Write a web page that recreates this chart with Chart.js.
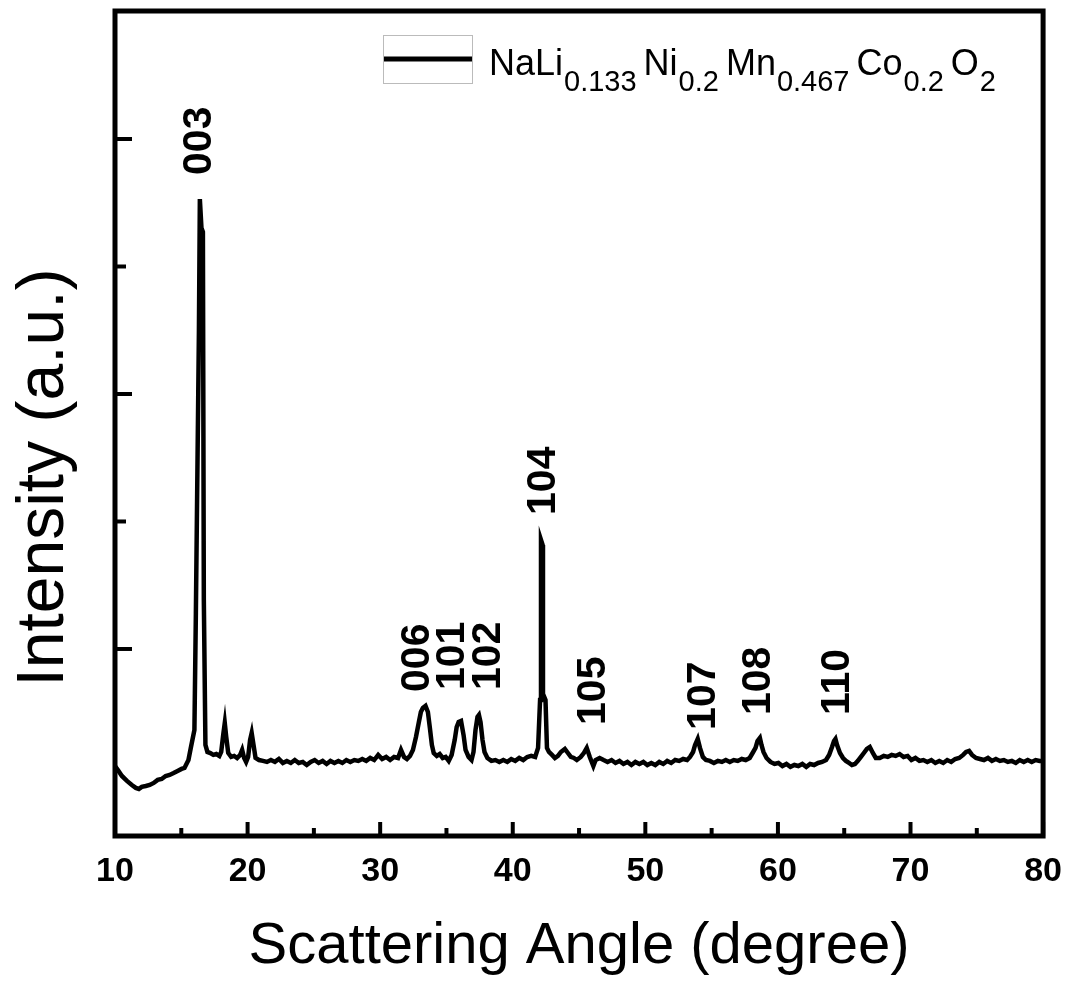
<!DOCTYPE html>
<html>
<head>
<meta charset="utf-8">
<title>XRD pattern</title>
<script src="https://cdn.jsdelivr.net/npm/chart.js@4.4.1/dist/chart.umd.min.js"></script>
<style>
  html, body { margin: 0; padding: 0; background: #fff; }
  #wrap { width: 1077px; height: 987px; }
</style>
</head>
<body>
<div id="wrap"><canvas id="xrd" width="1077" height="987"></canvas></div>
<script>
// 2-theta positions (degree) and measured intensity (a.u.)
const angles = [
  10.00, 10.22, 10.52, 10.90, 11.27, 11.57, 11.80, 12.02, 12.32, 12.62,
  12.92, 13.22, 13.52, 13.82, 14.12, 14.42, 14.72, 15.02, 15.24, 15.54,
  15.73, 15.99, 16.10, 16.33, 16.40, 16.52, 16.63, 16.70, 16.82, 16.97,
  17.19, 17.42, 17.64, 17.87, 18.01, 18.16, 18.28, 18.39, 18.54, 18.76,
  18.99, 19.21, 19.44, 19.59, 19.74, 19.89, 20.04, 20.19, 20.31, 20.45,
  20.60, 20.86, 21.16, 21.46, 21.76, 22.06, 22.36, 22.66, 22.96, 23.26,
  23.56, 23.86, 24.16, 24.46, 24.76, 25.06, 25.36, 25.66, 25.96, 26.25,
  26.55, 26.85, 27.15, 27.45, 27.75, 28.05, 28.35, 28.65, 28.95, 29.25,
  29.55, 29.85, 30.15, 30.45, 30.75, 31.05, 31.35, 31.57, 31.80, 32.02,
  32.25, 32.47, 32.70, 32.92, 33.07, 33.22, 33.42, 33.60, 33.75, 33.90,
  34.04, 34.27, 34.49, 34.72, 34.94, 35.17, 35.39, 35.62, 35.77, 35.92,
  36.10, 36.29, 36.44, 36.67, 36.89, 37.04, 37.19, 37.34, 37.45, 37.57,
  37.72, 37.87, 38.09, 38.39, 38.69, 38.99, 39.29, 39.59, 39.89, 40.19,
  40.49, 40.79, 41.09, 41.39, 41.69, 41.91, 42.06, 42.13, 42.25, 42.28,
  42.47, 42.58, 42.73, 42.96, 43.18, 43.41, 43.63, 43.93, 44.16, 44.38,
  44.61, 44.83, 45.13, 45.36, 45.58, 45.81, 46.08, 46.25, 46.55, 46.85,
  47.15, 47.45, 47.75, 48.05, 48.35, 48.65, 48.95, 49.25, 49.55, 49.85,
  50.15, 50.45, 50.75, 51.05, 51.35, 51.65, 51.95, 52.25, 52.55, 52.85,
  53.15, 53.37, 53.60, 53.75, 53.95, 54.12, 54.34, 54.57, 54.87, 55.17,
  55.47, 55.77, 56.07, 56.37, 56.67, 56.97, 57.27, 57.57, 57.87, 58.09,
  58.31, 58.46, 58.64, 58.76, 58.91, 59.14, 59.44, 59.74, 60.04, 60.34,
  60.64, 60.94, 61.24, 61.54, 61.84, 62.14, 62.43, 62.73, 63.03, 63.33,
  63.63, 63.86, 64.08, 64.23, 64.34, 64.46, 64.68, 64.91, 65.13, 65.36,
  65.58, 65.81, 66.03, 66.26, 66.48, 66.71, 66.93, 67.16, 67.38, 67.68,
  67.98, 68.28, 68.58, 68.88, 69.18, 69.48, 69.78, 70.07, 70.37, 70.67,
  70.97, 71.27, 71.57, 71.87, 72.17, 72.47, 72.77, 73.07, 73.37, 73.67,
  73.97, 74.19, 74.42, 74.64, 74.94, 75.24, 75.54, 75.84, 76.14, 76.44,
  76.74, 77.04, 77.34, 77.64, 77.94, 78.24, 78.54, 78.84, 79.14, 79.44,
  79.74, 80.00
];
const counts = [
  1082, 1051, 1004,  965,  933,  910,  902,  918,  925,  933,
   949,  973,  980, 1004, 1012, 1027, 1043, 1059, 1067, 1129,
  1231, 1365, 2282, 4502, 5529, 5302, 5271, 2384, 1247, 1192,
  1184, 1169, 1176, 1161, 1192, 1325, 1420, 1310, 1184, 1153,
  1161, 1145, 1169, 1208, 1145, 1114, 1153, 1286, 1341, 1247,
  1145, 1129, 1122, 1114, 1129, 1114, 1137, 1106, 1122, 1106,
  1129, 1106, 1114, 1090, 1114, 1129, 1106, 1122, 1098, 1122,
  1106, 1122, 1106, 1129, 1114, 1129, 1122, 1137, 1122, 1145,
  1129, 1169, 1137, 1153, 1129, 1153, 1145, 1208, 1153, 1137,
  1161, 1208, 1310, 1427, 1506, 1537, 1553, 1506, 1380, 1247,
  1184, 1161, 1176, 1145, 1153, 1122, 1169, 1286, 1388, 1427,
  1435, 1325, 1208, 1153, 1129, 1192, 1365, 1467, 1482, 1427,
  1286, 1192, 1145, 1122, 1129, 1114, 1129, 1114, 1137, 1122,
  1145, 1129, 1153, 1161, 1153, 1224, 1600, 2855, 2816, 1647,
  1600, 1224, 1192, 1169, 1145, 1161, 1192, 1216, 1184, 1153,
  1145, 1129, 1153, 1184, 1224, 1153, 1082, 1129, 1145, 1129,
  1114, 1129, 1106, 1122, 1098, 1114, 1090, 1114, 1098, 1114,
  1090, 1106, 1090, 1114, 1098, 1122, 1106, 1129, 1122, 1137,
  1129, 1153, 1192, 1247, 1294, 1224, 1153, 1129, 1122, 1106,
  1122, 1114, 1129, 1114, 1129, 1122, 1137, 1129, 1145, 1184,
  1224, 1278, 1302, 1247, 1192, 1145, 1114, 1098, 1106, 1082,
  1098, 1075, 1090, 1082, 1098, 1075, 1098, 1090, 1106, 1114,
  1129, 1169, 1231, 1278, 1294, 1247, 1184, 1145, 1122, 1106,
  1090, 1098, 1122, 1153, 1184, 1216, 1231, 1184, 1145, 1145,
  1161, 1153, 1169, 1161, 1176, 1153, 1161, 1129, 1145, 1122,
  1129, 1114, 1129, 1106, 1122, 1106, 1129, 1114, 1137, 1145,
  1169, 1192, 1200, 1169, 1145, 1137, 1129, 1145, 1122, 1137,
  1122, 1129, 1114, 1122, 1106, 1129, 1114, 1129, 1114, 1129,
  1122, 1122
];

// reflection indices and where they sit (angle, label foot in a.u.)
const peakNames  = ['003', '006', '101', '102', '104', '105', '107', '108', '110'];
const peakAngles = [16.37, 32.85, 35.47, 38.16, 42.36, 46.10, 54.42, 58.54, 64.53];
const peakFeet   = [5718, 1663, 1678, 1678, 3051, 1404, 1365, 1482, 1482];

const xTicks      = [10, 20, 30, 40, 50, 60, 70, 80];
const xMinorTicks = [15, 25, 35, 45, 55, 65, 75];
const yTicks      = [2000, 4000, 6000];
const yMinorTicks = [3000, 5000];
const yRange      = [533, 7004];

const FONT = '"Liberation Sans", Arial, Helvetica, sans-serif';

// frame + inward tick marks (major long, minor short)
const framePlugin = {
  id: 'frame',
  afterDraw(chart) {
    const {ctx, chartArea: a, scales: {x, y}} = chart;
    ctx.save();
    ctx.strokeStyle = '#000';
    ctx.lineWidth = 4;
    ctx.lineCap = 'butt';
    const tick = (x1, y1, x2, y2) => {
      ctx.beginPath(); ctx.moveTo(x1, y1); ctx.lineTo(x2, y2); ctx.stroke();
    };
    xTicks.forEach(v => tick(x.getPixelForValue(v), a.bottom, x.getPixelForValue(v), a.bottom - 14));
    xMinorTicks.forEach(v => tick(x.getPixelForValue(v), a.bottom, x.getPixelForValue(v), a.bottom - 8));
    yTicks.forEach(v => tick(a.left, y.getPixelForValue(v), a.left + 17, y.getPixelForValue(v)));
    yMinorTicks.forEach(v => tick(a.left, y.getPixelForValue(v), a.left + 11, y.getPixelForValue(v)));
    ctx.lineWidth = 5;
    ctx.strokeRect(a.left, a.top, a.right - a.left, a.bottom - a.top);
    ctx.restore();
  }
};

// y title, drawn by hand so it can sit a little below the axis centre
const yTitlePlugin = {
  id: 'yTitle',
  afterDraw(chart) {
    const {ctx, chartArea: a} = chart;
    ctx.save();
    ctx.translate(63, (a.top + a.bottom) / 2 + 54);
    ctx.rotate(-Math.PI / 2);
    ctx.font = '66px ' + FONT;
    ctx.fillStyle = '#000';
    ctx.textAlign = 'center';
    ctx.textBaseline = 'alphabetic';
    ctx.fillText('Intensity (a.u.)', 0, 0);
    ctx.restore();
  }
};

// vertical hkl labels over the reflections
const peakLabelPlugin = {
  id: 'peakLabels',
  afterDatasetsDraw(chart) {
    const {ctx, scales: {x, y}} = chart;
    ctx.save();
    ctx.fillStyle = '#000';
    ctx.font = 'bold 41px ' + FONT;
    ctx.textAlign = 'left';
    ctx.textBaseline = 'middle';
    peakNames.forEach((name, i) => {
      ctx.save();
      ctx.translate(x.getPixelForValue(peakAngles[i]), y.getPixelForValue(peakFeet[i]));
      ctx.rotate(-Math.PI / 2);
      ctx.fillText(name, 0, 0);
      ctx.restore();
    });
    ctx.restore();
  }
};

// legend with the chemical formula: element followed by its subscript
const formula = [
  ['NaLi', '0.133'],
  ['Ni', '0.2'],
  ['Mn', '0.467'],
  ['Co', '0.2'],
  ['O', '2']
];
const legendPlugin = {
  id: 'formulaLegend',
  afterDraw(chart) {
    const {ctx, chartArea: a} = chart;
    const bx = a.left + 268, by = a.top + 24, bw = 89, bh = 48;
    ctx.save();
    ctx.strokeStyle = '#777';
    ctx.lineWidth = 1;
    ctx.setLineDash([1, 1]);
    ctx.strokeRect(bx + 0.5, by + 0.5, bw, bh);
    ctx.setLineDash([]);
    ctx.strokeStyle = '#000';
    ctx.lineWidth = 5;
    ctx.beginPath();
    ctx.moveTo(bx + 1, by + 24);
    ctx.lineTo(bx + bw, by + 24);
    ctx.stroke();
    ctx.fillStyle = '#000';
    ctx.textBaseline = 'alphabetic';
    ctx.textAlign = 'left';
    let cx = bx + bw + 17;
    const base = by + 40;
    formula.forEach(([el, sub]) => {
      ctx.font = '36px ' + FONT;
      ctx.fillText(el, cx, base);
      cx += ctx.measureText(el).width + 1;
      ctx.font = '29px ' + FONT;
      ctx.fillText(sub, cx, base + 16);
      cx += ctx.measureText(sub).width + 7;
    });
    ctx.restore();
  }
};

new Chart(document.getElementById('xrd'), {
  type: 'line',
  data: {
    datasets: [{
      label: 'NaLi0.133Ni0.2Mn0.467Co0.2O2',
      data: angles.map((a, i) => ({x: a, y: counts[i]})),
      borderColor: '#000',
      borderWidth: 4.5,
      pointRadius: 0,
      tension: 0,
      fill: false
    }]
  },
  options: {
    responsive: false,
    animation: false,
    layout: {padding: {top: 11, right: 30, left: 0, bottom: 0}},
    plugins: {legend: {display: false}, tooltip: {enabled: false}},
    scales: {
      x: {
        type: 'linear',
        min: 10,
        max: 80,
        afterBuildTicks: s => { s.ticks = xTicks.map(v => ({value: v})); },
        afterFit: s => { s.height = 151; },
        grid: {display: false, drawTicks: false},
        border: {display: false},
        ticks: {
          color: '#000',
          padding: 15,
          maxRotation: 0,
          font: {family: FONT, size: 34, weight: 'bold', lineHeight: 1.2}
        },
        title: {
          display: true,
          text: 'Scattering Angle (degree)',
          color: '#000',
          padding: {top: 0, bottom: 5},
          font: {family: FONT, size: 58, lineHeight: 1.2}
        }
      },
      y: {
        type: 'linear',
        min: yRange[0],
        max: yRange[1],
        afterFit: s => { s.width = 115; },
        grid: {display: false, drawTicks: false},
        border: {display: false},
        ticks: {display: false}
      }
    }
  },
  plugins: [framePlugin, yTitlePlugin, peakLabelPlugin, legendPlugin]
});
</script>
</body>
</html>
